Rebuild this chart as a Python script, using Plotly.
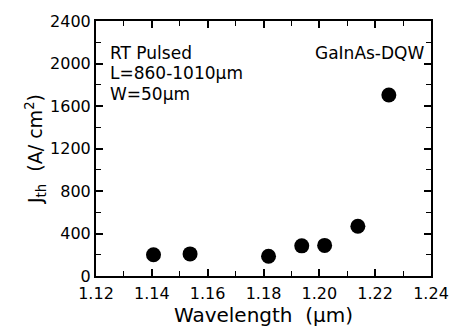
import plotly.graph_objects as go

wavelength = [1.1406, 1.1537, 1.1818, 1.1937, 1.2019, 1.2138, 1.2249]
jth = [200, 208, 186, 284, 288, 468, 1704]

x_ticks = [1.12, 1.14, 1.16, 1.18, 1.20, 1.22, 1.24]
x_ticktext = ["1.12", "1.14", "1.16", "1.18", "1.20", "1.22", "1.24"]
y_ticks = [0, 400, 800, 1200, 1600, 2000, 2400]

FONT = "DejaVu Sans, Liberation Sans, Arial, sans-serif"

fig = go.Figure()
fig.add_trace(go.Scatter(
    x=wavelength, y=jth, mode="markers",
    marker=dict(color="black", size=15, line=dict(width=0)),
    showlegend=False,
))

axis_common = dict(
    showline=True, linecolor="black", linewidth=2, mirror="ticks",
    ticks="inside", ticklen=7, tickwidth=1.5, tickcolor="black",
    showgrid=False, zeroline=False,
    tickfont=dict(family=FONT, size=16, color="black"),
)

fig.update_xaxes(
    range=[1.12, 1.24], tickvals=x_ticks, ticktext=x_ticktext,
    minor=dict(ticks="inside", dtick=0.01, tick0=1.12, ticklen=5, tickwidth=1.2, tickcolor="black"),
    title=dict(text="Wavelength  (μm)", font=dict(family=FONT, size=20, color="black"), standoff=6),
    ticklabelstandoff=2,
    **axis_common,
)
fig.update_yaxes(
    range=[0, 2400], tickvals=y_ticks,
    minor=dict(ticks="inside", dtick=200, tick0=0, ticklen=5, tickwidth=1.2, tickcolor="black"),
    title=dict(text="J<sub>th</sub>  (A/ cm<sup>2</sup>)", font=dict(family=FONT, size=19, color="black"), standoff=2),
    **axis_common,
)

ann_font = dict(family=FONT, size=17, color="black")
fig.add_annotation(x=0.036, y=0.874, xref="paper", yref="paper", xanchor="left", yanchor="middle",
                   text="RT Pulsed", showarrow=False, font=ann_font)
fig.add_annotation(x=0.036, y=0.798, xref="paper", yref="paper", xanchor="left", yanchor="middle",
                   text="L=860-1010μm", showarrow=False, font=ann_font)
fig.add_annotation(x=0.036, y=0.712, xref="paper", yref="paper", xanchor="left", yanchor="middle",
                   text="W=50μm", showarrow=False, font=ann_font)
fig.add_annotation(x=0.985, y=0.874, xref="paper", yref="paper", xanchor="right", yanchor="middle",
                   text="GaInAs-DQW", showarrow=False, font=ann_font)

fig.update_layout(
    width=461, height=335,
    margin=dict(l=96, r=21, t=16, b=58),
    paper_bgcolor="white", plot_bgcolor="white",
    font=dict(family=FONT, color="black"),
)

fig.write_html("out.html")
